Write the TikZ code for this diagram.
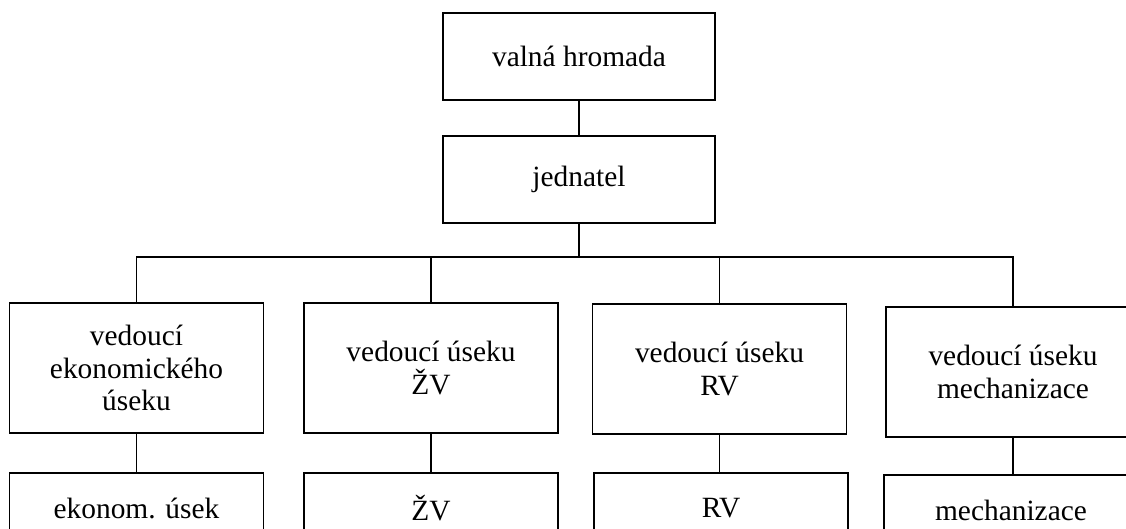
\documentclass[tikz,border=0pt]{standalone}
\usepackage{fontspec}
\setmainfont{Liberation Serif}

\begin{document}
\begin{tikzpicture}[x=0.5pt,y=-0.5pt,line width=0.6pt,
    box/.style={draw, inner sep=0pt, align=center, font=\fontsize{14.7}{16.3}\selectfont},
    head/.style={box, minimum width=136pt, minimum height=43.5pt},
    lead/.style={box, minimum width=127pt, minimum height=65pt},
    unit/.style={box, minimum width=127pt, minimum height=35pt}]
    \useasboundingbox (0,0) rectangle (1126,529);
    \clip (0,0) rectangle (1126,529);
    \node[head] (VH) at (579,56.5) {valná hromada};
    \node[head] (J) at (579,179.5) {jednatel};
    \coordinate (bus) at (579,257);
    \node[lead] (L1) at (136.5,368) {vedoucí\\ekonomického\\úseku};
    \node[lead] (L2) at (431,368) {vedoucí úseku\\ŽV};
    \node[lead] (L3) at (719.5,369) {vedoucí úseku\\RV};
    \node[lead] (L4) at (1013,372) {vedoucí úseku\\mechanizace};
    \node[unit] (U1) at (136.5,508) {ekonom. úsek};
    \node[unit] (U2) at (431,508) {ŽV};
    \node[unit] (U3) at (721,508) {RV};
    \node[unit] (U4) at (1011,510) {mechanizace};
    \draw (VH) -- (J);
    \draw (J) -- (bus);
    \draw (L1.north) |- (bus) -| (L4.north);
    \foreach \n in {L2,L3}
        \draw (\n.north) -- (\n.north |- bus);
    \foreach \n in {1,...,4}
        \draw (L\n.south) -- (U\n.north -| L\n.south);
\end{tikzpicture}
\end{document}
